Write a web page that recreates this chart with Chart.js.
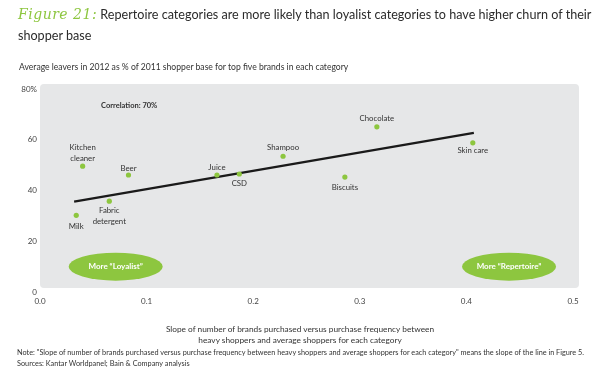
<!DOCTYPE html>
<html>
<head>
<meta charset="utf-8">
<script src="https://cdn.jsdelivr.net/npm/chart.js@4"></script>
<style>
  html, body { margin: 0; padding: 0; background: #fff; }
  #wrap { position: relative; width: 600px; height: 374px; overflow: hidden; font-family: Lato, "Open Sans", sans-serif; color: #333; }
  #c { position: absolute; left: 0; top: 0; }
  .t { position: absolute; white-space: nowrap; }
  #title { left: 18px; top: 4px; font-size: 12.6px; line-height: 21px; color: #2b2b2b; }
  #title .fig { font-family: "DejaVu Serif", serif; font-style: italic; color: #8dc63f; font-size: 14px; font-weight: 300; letter-spacing: 0.5px; }
  #sub { left: 19px; top: 62px; font-size: 8.6px; color: #333; }
  #xt { left: 0; width: 600px; top: 324px; text-align: center; font-size: 8.3px; line-height: 11px; color: #333; }
  #note { left: 17px; top: 347px; font-size: 7.3px; line-height: 11px; color: #333; }
</style>
</head>
<body>
<div id="wrap">
  <canvas id="c" width="600" height="374"></canvas>
  <div class="t" id="title"><span class="fig">Figure 21:</span> Repertoire categories are more likely than loyalist categories to have higher churn of their<br>shopper base</div>
  <div class="t" id="sub">Average leavers in 2012 as % of 2011 shopper base for top five brands in each category</div>
  <div class="t" id="xt">Slope of number of brands purchased versus purchase frequency between<br>heavy shoppers and average shoppers for each category</div>
  <div class="t" id="note">Note: "Slope of number of brands purchased versus purchase frequency between heavy shoppers and average shoppers for each category" means the slope of the line in Figure 5.<br>Sources: Kantar Worldpanel; Bain &amp; Company analysis</div>
</div>
<script>
// ---- data ----
const categories = ["Kitchen cleaner", "Beer", "Fabric detergent", "Milk", "Juice", "CSD", "Shampoo", "Chocolate", "Biscuits", "Skin care"];
const slopeValues = [0.040, 0.083, 0.065, 0.034, 0.166, 0.187, 0.228, 0.316, 0.286, 0.406];
const leaverValues = [49.6, 46.1, 35.8, 30.2, 46.1, 46.5, 53.5, 65.1, 45.3, 58.8];
const trendX = [0.032, 0.407];
const trendY = [35.6, 62.7];
const xTicks = [0, 0.1, 0.2, 0.3, 0.4, 0.5];
const yTicks = [0, 20, 40, 60, 80];
const correlationText = "Correlation: 70%";
const zoneLabels = ["More \u201cLoyalist\u201d", "More \u201cRepertoire\u201d"];
const zoneX = [0.071, 0.44];
const zoneY = [10, 10];

// ---- label styling (offsets in px relative to point) ----
const labelStyle = {
  "Kitchen cleaner": { lines: ["Kitchen", "cleaner"], dy: [-19, -8] },
  "Beer": { lines: ["Beer"], dy: [-7] },
  "Fabric detergent": { lines: ["Fabric", "detergent"], dy: [9, 20] },
  "Milk": { lines: ["Milk"], dy: [11] },
  "Juice": { lines: ["Juice"], dy: [-8] },
  "CSD": { lines: ["CSD"], dy: [9] },
  "Shampoo": { lines: ["Shampoo"], dy: [-9] },
  "Chocolate": { lines: ["Chocolate"], dy: [-8] },
  "Biscuits": { lines: ["Biscuits"], dy: [10] },
  "Skin care": { lines: ["Skin care"], dy: [8] }
};

const GREEN = '#8dc63f';
const FONT = 'Lato, "Open Sans", sans-serif';

const decor = {
  id: 'decor',
  beforeDatasetsDraw(chart) {
    const ctx = chart.ctx, xs = chart.scales.x, ys = chart.scales.y;
    const l = xs.getPixelForValue(0), r = xs.getPixelForValue(0.5) + 6;
    const t = ys.getPixelForValue(80) - 5, b = ys.getPixelForValue(0) - 4;
    ctx.save();
    ctx.fillStyle = '#e6e7e8';
    ctx.beginPath();
    ctx.roundRect(l, t, r - l, b - t, 4);
    ctx.fill();
    zoneLabels.forEach((txt, i) => {
      const cx = xs.getPixelForValue(zoneX[i]), cy = ys.getPixelForValue(zoneY[i]);
      ctx.fillStyle = GREEN;
      ctx.beginPath();
      ctx.ellipse(cx, cy, 47, 14, 0, 0, Math.PI * 2);
      ctx.fill();
      ctx.fillStyle = '#fff';
      ctx.font = 'bold 8px ' + FONT;
      ctx.textAlign = 'center';
      ctx.textBaseline = 'middle';
      ctx.fillText(txt, cx, cy);
    });
    ctx.fillStyle = '#333';
    ctx.font = 'bold 7.5px ' + FONT;
    ctx.textAlign = 'left';
    ctx.textBaseline = 'middle';
    ctx.fillText(correlationText, chart.chartArea.left + 61, ys.getPixelForValue(73.6));
    ctx.restore();
  },
  afterDatasetsDraw(chart) {
    const ctx = chart.ctx, xs = chart.scales.x, ys = chart.scales.y;
    ctx.save();
    ctx.fillStyle = '#333';
    ctx.font = '7.8px ' + FONT;
    ctx.textAlign = 'center';
    ctx.textBaseline = 'middle';
    categories.forEach((name, i) => {
      const st = labelStyle[name];
      const px = xs.getPixelForValue(slopeValues[i]), py = ys.getPixelForValue(leaverValues[i]);
      st.lines.forEach((ln, k) => ctx.fillText(ln, px, py + st.dy[k]));
    });
    ctx.restore();
  }
};

new Chart(document.getElementById('c'), {
  type: 'scatter',
  data: {
    datasets: [
      {
        type: 'line',
        label: 'Trend',
        data: trendX.map((x, i) => ({ x, y: trendY[i] })),
        borderColor: '#1a1a1a',
        borderWidth: 2.4,
        pointRadius: 0,
        fill: false,
        order: 1
      },
      {
        label: 'Categories',
        data: slopeValues.map((x, i) => ({ x, y: leaverValues[i] })),
        backgroundColor: GREEN,
        borderColor: GREEN,
        pointRadius: 2.6,
        pointBorderWidth: 0,
        order: 0
      }
    ]
  },
  options: {
    responsive: false,
    devicePixelRatio: 1,
    animation: false,
    layout: { padding: { left: 0, right: 27, top: 89, bottom: 62 } },
    plugins: { legend: { display: false }, tooltip: { enabled: false } },
    scales: {
      x: {
        type: 'linear', min: 0, max: 0.5,
        afterBuildTicks(s) { s.ticks = xTicks.map(v => ({ value: v })); },
        afterFit(s) { s.height = 20; },
        grid: { display: false, drawTicks: false },
        border: { display: false },
        ticks: { padding: 5, color: '#444', font: { family: FONT, size: 8 }, callback: v => v.toFixed(1) }
      },
      y: {
        type: 'linear', min: 0, max: 80,
        afterBuildTicks(s) { s.ticks = yTicks.map(v => ({ value: v })); },
        afterFit(s) { s.width = 40; },
        grid: { display: false, drawTicks: false },
        border: { display: false },
        ticks: { padding: 3, color: '#444', font: { family: FONT, size: 8 }, callback: v => v === 80 ? '80%' : String(v) }
      }
    }
  },
  plugins: [decor]
});
</script>
</body>
</html>
